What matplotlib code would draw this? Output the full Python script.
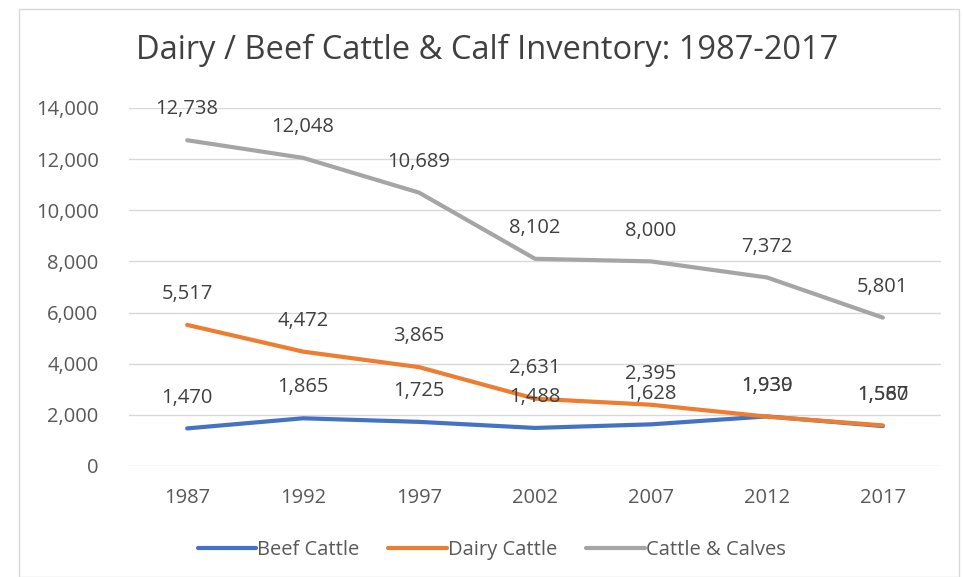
import matplotlib
matplotlib.use('Agg')
import matplotlib.pyplot as plt
from matplotlib.patches import Rectangle

# data
years = ['1987', '1992', '1997', '2002', '2007', '2012', '2017']
beef = [1470, 1865, 1725, 1488, 1628, 1939, 1560]
dairy = [5517, 4472, 3865, 2631, 2395, 1930, 1587]
calves = [12738, 12048, 10689, 8102, 8000, 7372, 5801]

plt.rcParams['font.family'] = ['Open Sans', 'DejaVu Sans']

fig = plt.figure(figsize=(9.64, 5.77), dpi=100)
fig.patches.append(Rectangle((0.02, 0.0), 0.975, 0.985, transform=fig.transFigure,
                             fill=False, edgecolor='#d9d9d9', linewidth=1))
ax = fig.add_axes([0.134, 0.1924, 0.842, 0.6205])

x = list(range(len(years)))
series = [('Beef Cattle', beef, '#4472c4'),
          ('Dairy Cattle', dairy, '#ed7d31'),
          ('Cattle & Calves', calves, '#a5a5a5')]
for name, vals, col in series:
    ax.plot(x, vals, color=col, linewidth=3, label=name, solid_capstyle='round')
    for xi, v in zip(x, vals):
        ax.annotate(f'{v:,}', (xi, v), xytext=(0, 15), textcoords='offset points',
                    ha='center', va='bottom', fontsize=14.5, color='#404040')

ax.set_xlim(-0.5, len(years) - 0.5)
ax.set_ylim(0, 14000)
ax.set_yticks(range(0, 14001, 2000))
ax.set_yticklabels([f'{t:,}' for t in range(0, 14001, 2000)])
ax.set_xticks(x)
ax.set_xticklabels(years)
ax.tick_params(axis='both', length=0, labelsize=14.5, labelcolor='#595959')
ax.tick_params(axis='x', pad=16)
ax.tick_params(axis='y', pad=22)
ax.grid(axis='y', color='#d9d9d9', linewidth=1)
ax.set_axisbelow(True)
for s in ax.spines.values():
    s.set_visible(False)

fig.text(0.505, 0.913, 'Dairy / Beef Cattle & Calf Inventory: 1987-2017',
         ha='center', va='center', fontsize=23.5, color='#404040')
fig.legend(loc='center', bbox_to_anchor=(0.51, 0.047), ncol=3, frameon=False,
           fontsize=14.5, handlelength=2.9, handletextpad=0.05, columnspacing=1.45,
           labelcolor='#595959')

fig.savefig('out.png', dpi=100)
